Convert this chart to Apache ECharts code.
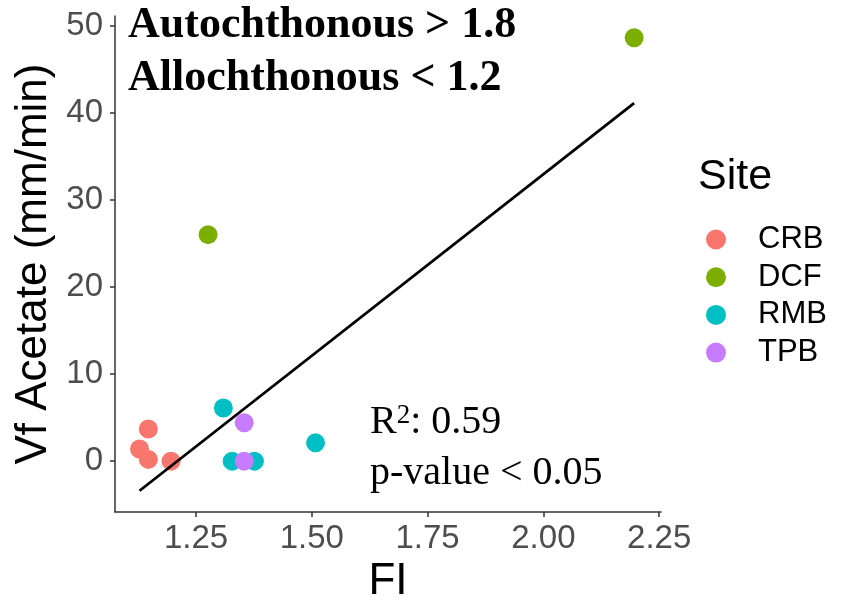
<!DOCTYPE html>
<html>
<head>
<meta charset="utf-8">
<script src="https://cdn.jsdelivr.net/npm/echarts@6/dist/echarts.min.js"></script>
<style>
  html, body { margin: 0; padding: 0; background: #fff; }
  #chart { width: 841px; height: 609px; }
</style>
</head>
<body>
<div id="chart"></div>
<script>
  // values
  var sites = ['CRB', 'DCF', 'RMB', 'TPB'];
  var siteColors = ['#F8766D', '#7CAE00', '#00BFC4', '#C77CFF'];

  var crbFI = [1.128, 1.147, 1.147, 1.196];
  var crbVf = [1.4, 3.7, 0.2, 0.0];
  var dcfFI = [1.276, 2.196];
  var dcfVf = [26.0, 48.6];
  var rmbFI = [1.309, 1.328, 1.376, 1.508];
  var rmbVf = [6.1, 0.0, 0.0, 2.1];
  var tpbFI = [1.354, 1.354];
  var tpbVf = [4.4, 0.0];

  // fitted regression line ends
  var fitFI = [1.128, 2.196];
  var fitVf = [-3.4, 41.1];

  var xTicks = [1.25, 1.5, 1.75, 2.0, 2.25];
  var yTicks = [0, 10, 20, 30, 40, 50];

  function pairs(xs, ys) {
    return xs.map(function (x, i) { return [x, ys[i]]; });
  }

  var siteData = [pairs(crbFI, crbVf), pairs(dcfFI, dcfVf), pairs(rmbFI, rmbVf), pairs(tpbFI, tpbVf)];

  var sans = '"Liberation Sans", Arial, sans-serif';
  var serif = '"Liberation Serif", "Times New Roman", serif';

  var chart = echarts.init(document.getElementById('chart'));

  var series = sites.map(function (name, i) {
    return {
      name: name,
      type: 'scatter',
      symbol: 'circle',
      symbolSize: 19,
      itemStyle: { color: siteColors[i], opacity: 1 },
      data: siteData[i],
      z: 2
    };
  });
  series.push({
    name: 'fit',
    type: 'line',
    symbol: 'none',
    lineStyle: { color: '#000', width: 2.8 },
    data: pairs(fitFI, fitVf),
    z: 3
  });

  chart.setOption({
    animation: false,
    backgroundColor: '#fff',
    grid: { left: 115, top: 16, right: 180, bottom: 96 },
    xAxis: {
      type: 'value',
      min: 1.075,
      max: 2.254,
      name: 'FI',
      nameLocation: 'middle',
      nameGap: 46,
      nameTextStyle: { fontFamily: sans, fontSize: 44, color: '#000' },
      axisLine: { onZero: false, lineStyle: { color: '#333', width: 1.5 } },
      axisTick: { show: true, length: 5, customValues: xTicks, lineStyle: { color: '#333', width: 1.5 } },
      axisLabel: {
        customValues: xTicks,
        fontFamily: sans, fontSize: 33, color: '#4D4D4D', margin: 10,
        formatter: function (v) { return v.toFixed(2); }
      },
      splitLine: { show: false }
    },
    yAxis: {
      type: 'value',
      min: -5.85,
      max: 51.1,
      name: 'Vf Acetate (mm/min)',
      nameLocation: 'middle',
      nameGap: 58,
      nameTextStyle: { fontFamily: sans, fontSize: 44, color: '#000' },
      axisLine: { show: true, onZero: false, lineStyle: { color: '#333', width: 1.5 } },
      axisTick: { show: true, length: 5, customValues: yTicks, lineStyle: { color: '#333', width: 1.5 } },
      axisLabel: {
        customValues: yTicks,
        fontFamily: sans, fontSize: 33, color: '#4D4D4D', margin: 12
      },
      splitLine: { show: false }
    },
    legend: {
      data: sites,
      orient: 'vertical',
      left: 706,
      top: 224,
      padding: 0,
      icon: 'circle',
      itemWidth: 20,
      itemHeight: 20,
      itemGap: 6.7,
      textStyle: { fontFamily: sans, fontSize: 31, color: '#000', padding: [0, 0, 0, 27] }
    },
    graphic: [
      {
        type: 'text', left: 698, top: 156,
        style: { text: 'Site', font: '43px ' + sans, fill: '#000' }
      },
      {
        type: 'text', x: 128, y: 26,
        style: { text: 'Autochthonous > 1.8', font: 'bold 44px ' + serif, fill: '#000', verticalAlign: 'middle' }
      },
      {
        type: 'text', x: 128, y: 79,
        style: { text: 'Allochthonous < 1.2', font: 'bold 44px ' + serif, fill: '#000', verticalAlign: 'middle' }
      },
      {
        type: 'text', x: 370, y: 422,
        style: {
          text: '{a|R}{s|2}{a|: 0.59}',
          verticalAlign: 'middle',
          rich: {
            a: { fontFamily: serif, fontSize: 40, color: '#000', verticalAlign: 'middle', lineHeight: 40 },
            s: { fontFamily: serif, fontSize: 27, color: '#000', verticalAlign: 'top', lineHeight: 27 }
          }
        }
      },
      {
        type: 'text', x: 370, y: 473,
        style: { text: 'p-value < 0.05', font: '40px ' + serif, fill: '#000', verticalAlign: 'middle' }
      }
    ],
    series: series
  });
</script>
</body>
</html>
